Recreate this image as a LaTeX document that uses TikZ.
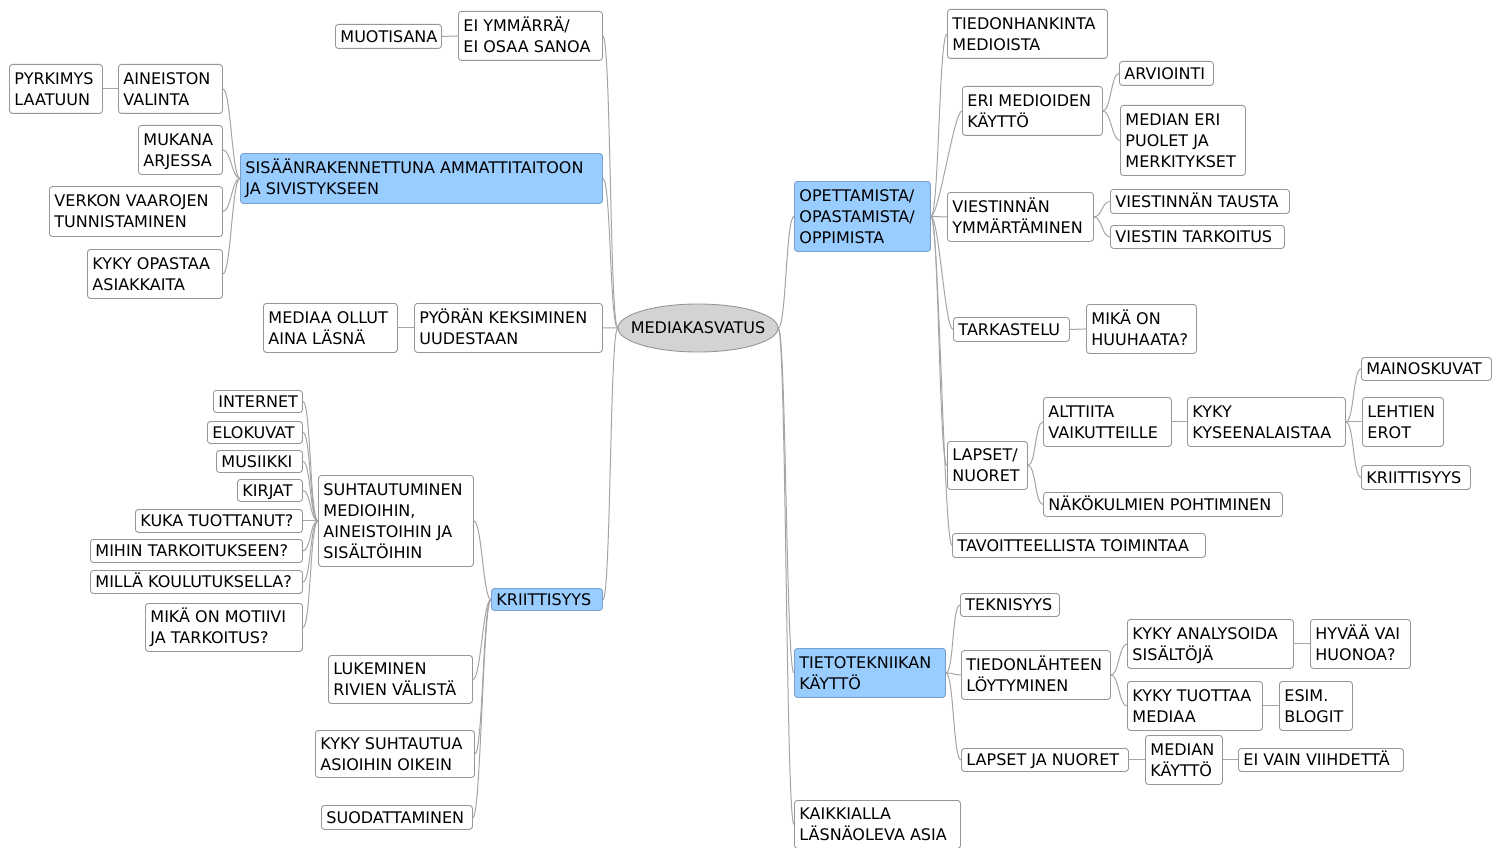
\documentclass[tikz,border=0pt]{standalone}
\usepackage{fontspec}
\setmainfont{DejaVu Sans}
\usetikzlibrary{backgrounds}
\definecolor{bxline}{RGB}{150,150,150}
\definecolor{cnline}{RGB}{165,165,165}
\definecolor{bluefill}{RGB}{153,204,255}
\definecolor{blueline}{RGB}{120,160,205}
\definecolor{rootfill}{RGB}{211,211,211}
\tikzset{
  mmnode/.style={draw=bxline, fill=white, rounded corners=3pt, inner xsep=5pt, inner ysep=0pt,
    anchor=north west, line width=0.9pt, font=\fontsize{16pt}{21pt}\selectfont},
  whitebox/.style={mmnode},
  bluebox/.style={mmnode, fill=bluefill, draw=blueline},
  conn/.style={draw=cnline, line width=1pt},
  rootnode/.style={inner sep=0pt, minimum width=160pt, minimum height=48pt, font=\fontsize{16pt}{21pt}\selectfont},
}
\newcommand\mmbox[7]{\node[#1, minimum width={#5-#3}, minimum height={#6-#4}] (#2) at (#3,#4)
  {\raisebox{-1.5pt}[\height][\depth]{\makebox[\dimexpr #5pt-#3pt-10pt\relax][l]{\begin{tabular}{@{}l@{}}#7\end{tabular}}}};}
\newcommand\conL[2]{\draw[conn] (#1.west) .. controls +(-8,0) and +(8,0) .. (#2.east);}
\newcommand\conR[2]{\draw[conn] (#1.east) .. controls +(8,0) and +(-8,0) .. (#2.west);}
\begin{document}
\begin{tikzpicture}[x=1pt,y=-1pt]
\useasboundingbox (0,0) rectangle (1504,848);
% root
\node[rootnode] (root) at (698,328) {MEDIAKASVATUS};
% left side
\mmbox{whitebox}{eiy}{458}{11}{602}{60}{EI YMMÄRRÄ/\\EI OSAA SANOA}
\mmbox{whitebox}{muo}{335}{24}{441}{48}{MUOTISANA}
\mmbox{bluebox}{sis}{240}{153}{602}{203}{SISÄÄNRAKENNETTUNA AMMATTITAITOON\\JA SIVISTYKSEEN}
\mmbox{whitebox}{ain}{118}{64}{222}{113}{AINEISTON\\VALINTA}
\mmbox{whitebox}{pyr}{9}{64}{102}{113}{PYRKIMYS\\LAATUUN}
\mmbox{whitebox}{muk}{138}{125}{222}{174}{MUKANA\\ARJESSA}
\mmbox{whitebox}{ver}{49}{186}{222}{236}{VERKON VAAROJEN\\TUNNISTAMINEN}
\mmbox{whitebox}{kop}{87}{249}{222}{298}{KYKY OPASTAA\\ASIAKKAITA}
\mmbox{whitebox}{pyo}{414}{303}{602}{352}{PYÖRÄN KEKSIMINEN\\UUDESTAAN}
\mmbox{whitebox}{mao}{263}{303}{397}{352}{MEDIAA OLLUT\\AINA LÄSNÄ}
\mmbox{bluebox}{kri}{491}{588}{602}{610}{KRIITTISYYS}
\mmbox{whitebox}{suh}{318}{475}{473}{566}{SUHTAUTUMINEN\\MEDIOIHIN,\\AINEISTOIHIN JA\\SISÄLTÖIHIN}
\mmbox{whitebox}{int}{213}{390}{302}{412}{INTERNET}
\mmbox{whitebox}{elo}{207}{421}{302}{443}{ELOKUVAT}
\mmbox{whitebox}{mus}{216}{450}{302}{472}{MUSIIKKI}
\mmbox{whitebox}{kir}{237}{479}{302}{501}{KIRJAT}
\mmbox{whitebox}{kuk}{135}{509}{302}{532}{KUKA TUOTTANUT?}
\mmbox{whitebox}{mih}{90}{539}{302}{562}{MIHIN TARKOITUKSEEN?}
\mmbox{whitebox}{mil}{90}{570}{302}{593}{MILLÄ KOULUTUKSELLA?}
\mmbox{whitebox}{mot}{145}{603}{302}{651}{MIKÄ ON MOTIIVI\\JA TARKOITUS?}
\mmbox{whitebox}{luk}{328}{655}{472}{703}{LUKEMINEN\\RIVIEN VÄLISTÄ}
\mmbox{whitebox}{kys}{315}{730}{474}{777}{KYKY SUHTAUTUA\\ASIOIHIN OIKEIN}
\mmbox{whitebox}{suo}{321}{805}{472}{829}{SUODATTAMINEN}
% right side
\mmbox{bluebox}{ope}{794}{181}{930}{251}{OPETTAMISTA/\\OPASTAMISTA/\\OPPIMISTA}
\mmbox{whitebox}{tie}{947}{9}{1107}{58}{TIEDONHANKINTA\\MEDIOISTA}
\mmbox{whitebox}{eri}{962}{86}{1102}{135}{ERI MEDIOIDEN\\KÄYTTÖ}
\mmbox{whitebox}{arv}{1119}{61}{1213}{85}{ARVIOINTI}
\mmbox{whitebox}{mep}{1120}{105}{1245}{175}{MEDIAN ERI\\PUOLET JA\\MERKITYKSET}
\mmbox{whitebox}{vym}{947}{192}{1093}{241}{VIESTINNÄN\\YMMÄRTÄMINEN}
\mmbox{whitebox}{vta}{1110}{189}{1289}{213}{VIESTINNÄN TAUSTA}
\mmbox{whitebox}{vtr}{1110}{225}{1284}{248}{VIESTIN TARKOITUS}
\mmbox{whitebox}{tar}{953}{317}{1069}{341}{TARKASTELU}
\mmbox{whitebox}{huu}{1086}{304}{1196}{353}{MIKÄ ON\\HUUHAATA?}
\mmbox{whitebox}{lap}{947}{441}{1027}{489}{LAPSET/\\NUORET}
\mmbox{whitebox}{alt}{1043}{397}{1171}{446}{ALTTIITA\\VAIKUTTEILLE}
\mmbox{whitebox}{kka}{1187}{397}{1345}{446}{KYKY\\KYSEENALAISTAA}
\mmbox{whitebox}{mai}{1361}{357}{1491}{380}{MAINOSKUVAT}
\mmbox{whitebox}{leh}{1362}{397}{1443}{446}{LEHTIEN\\EROT}
\mmbox{whitebox}{kr2}{1361}{465}{1470}{489}{KRIITTISYYS}
\mmbox{whitebox}{nak}{1043}{492}{1282}{516}{NÄKÖKULMIEN POHTIMINEN}
\mmbox{whitebox}{tav}{952}{533}{1205}{557}{TAVOITTEELLISTA TOIMINTAA}
\mmbox{bluebox}{tkk}{794}{648}{945}{697}{TIETOTEKNIIKAN\\KÄYTTÖ}
\mmbox{whitebox}{tek}{960}{593}{1059}{616}{TEKNISYYS}
\mmbox{whitebox}{tlo}{961}{650}{1110}{699}{TIEDONLÄHTEEN\\LÖYTYMINEN}
\mmbox{whitebox}{kan}{1127}{619}{1293}{668}{KYKY ANALYSOIDA\\SISÄLTÖJÄ}
\mmbox{whitebox}{hyv}{1310}{619}{1410}{668}{HYVÄÄ VAI\\HUONOA?}
\mmbox{whitebox}{ktu}{1127}{681}{1262}{730}{KYKY TUOTTAA\\MEDIAA}
\mmbox{whitebox}{esi}{1279}{681}{1352}{730}{ESIM.\\BLOGIT}
\mmbox{whitebox}{ljn}{961}{748}{1128}{771}{LAPSET JA NUORET}
\mmbox{whitebox}{mka}{1145}{735}{1222}{784}{MEDIAN\\KÄYTTÖ}
\mmbox{whitebox}{eiv}{1238}{748}{1403}{771}{EI VAIN VIIHDETTÄ}
\mmbox{whitebox}{kai}{794}{800}{960}{848}{KAIKKIALLA\\LÄSNÄOLEVA ASIA}
% connectors
\begin{scope}[on background layer]
\fill[white] (0,0) rectangle (1504,848);
\conL{root}{eiy}\conL{root}{sis}\conL{root}{pyo}\conL{root}{kri}
\conL{eiy}{muo}
\conL{sis}{ain}\conL{sis}{muk}\conL{sis}{ver}\conL{sis}{kop}
\conL{ain}{pyr}
\conL{pyo}{mao}
\conL{kri}{suh}\conL{kri}{luk}\conL{kri}{kys}\conL{kri}{suo}
\conL{suh}{int}\conL{suh}{elo}\conL{suh}{mus}\conL{suh}{kir}
\conL{suh}{kuk}\conL{suh}{mih}\conL{suh}{mil}\conL{suh}{mot}
\conR{root}{ope}\conR{root}{tkk}\conR{root}{kai}
\conR{ope}{tie}\conR{ope}{eri}\conR{ope}{vym}\conR{ope}{tar}\conR{ope}{lap}\conR{ope}{tav}
\conR{eri}{arv}\conR{eri}{mep}
\conR{vym}{vta}\conR{vym}{vtr}
\conR{tar}{huu}
\conR{lap}{alt}\conR{lap}{nak}
\conR{alt}{kka}
\conR{kka}{mai}\conR{kka}{leh}\conR{kka}{kr2}
\conR{tkk}{tek}\conR{tkk}{tlo}\conR{tkk}{ljn}
\conR{tlo}{kan}\conR{tlo}{ktu}
\conR{kan}{hyv}\conR{ktu}{esi}
\conR{ljn}{mka}\conR{mka}{eiv}
\draw[draw=bxline, fill=rootfill, line width=0.9pt] (root.center) ellipse [x radius=80, y radius=24];
\end{scope}
\end{tikzpicture}
\end{document}
